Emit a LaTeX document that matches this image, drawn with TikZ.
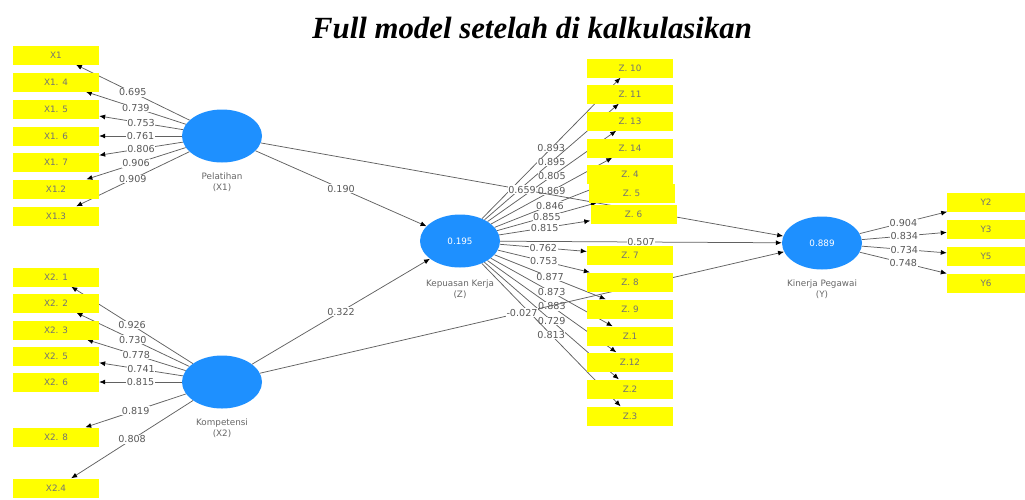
\documentclass[tikz,border=0pt]{standalone}
\usepackage{fontspec}
\setmainfont{Liberation Serif}
\newfontfamily\plsfont{DejaVu Sans}
\usetikzlibrary{shapes.geometric,arrows.meta,backgrounds}
\definecolor{plsyellow}{RGB}{255,255,0}
\definecolor{plsblue}{RGB}{30,144,255}

\begin{document}
\begin{tikzpicture}[x=1pt, y=-1pt]

		\tikzstyle{indbox} = [rectangle, fill=plsyellow, minimum width=86pt, minimum height=19pt, inner sep=0pt, text=black!55, font=\plsfont\fontsize{8.8}{9}\selectfont]
		\tikzstyle{latent} = [ellipse, fill=plsblue, minimum width=80pt, minimum height=53pt, inner sep=0pt, text=white, font=\plsfont\fontsize{8.8}{9}\selectfont]
		\tikzstyle{lvname} = [align=center, text=black!60, font=\plsfont\fontsize{8.8}{11}\selectfont]
		\tikzstyle{link} = [draw=black!62, line width=0.75pt, -{Latex[length=6pt, width=5pt, color=black]}]
		\tikzstyle{val} = [fill=white, inner sep=0.5pt, text=black!65, font=\plsfont\fontsize{9.6}{10}\selectfont]

		\useasboundingbox (0,0) rectangle (1025,499);

		\node[anchor=base, font=\bfseries\itshape\fontsize{30.8}{34}\selectfont] (title) at (532,38) {Full model setelah di kalkulasikan};

		\node[latent] (pel) at (222,136) {};
		\node[latent] (komp) at (222,382) {};
		\node[latent] (kep) at (460,241) {0.195};
		\node[latent] (kin) at (822,243) {0.889};

		\node[lvname] (pel_lbl) at (222,182) {Pelatihan\\(X1)};
		\node[lvname] (komp_lbl) at (222,428) {Kompetensi\\(X2)};
		\node[lvname] (kep_lbl) at (460,289) {Kepuasan Kerja\\(Z)};
		\node[lvname] (kin_lbl) at (822,289) {Kinerja Pegawai\\(Y)};

		\node[indbox] (x1) at (56,55) {X1};
		\node[indbox] (x14) at (56,82) {X1. 4};
		\node[indbox] (x15) at (56,109) {X1. 5};
		\node[indbox] (x16) at (56,136) {X1. 6};
		\node[indbox] (x17) at (56,162) {X1. 7};
		\node[indbox] (x12) at (56,189) {X1.2};
		\node[indbox] (x13) at (56,216) {X1.3};

		\node[indbox] (x21) at (56,277) {X2. 1};
		\node[indbox] (x22) at (56,303) {X2. 2};
		\node[indbox] (x23) at (56,330) {X2. 3};
		\node[indbox] (x25) at (56,356) {X2. 5};
		\node[indbox] (x26) at (56,382) {X2. 6};
		\node[indbox] (x28) at (56,437) {X2. 8};
		\node[indbox] (x24) at (56,488) {X2.4};

		\node[indbox] (z10) at (630,68) {Z. 10};
		\node[indbox] (z11) at (630,94) {Z. 11};
		\node[indbox] (z13) at (630,121) {Z. 13};
		\node[indbox] (z14) at (630,148) {Z. 14};
		\node[indbox] (z4) at (630,174) {Z. 4};
		\node[indbox] (z5) at (631.5,193) {Z. 5};
		\node[indbox] (z6) at (633.5,214) {Z. 6};
		\node[indbox] (z7) at (630,255) {Z. 7};
		\node[indbox] (z8) at (630,282) {Z. 8};
		\node[indbox] (z9) at (630,309) {Z. 9};
		\node[indbox] (z1) at (630,336) {Z.1};
		\node[indbox] (z12) at (630,362) {Z.12};
		\node[indbox] (z2) at (630,389) {Z.2};
		\node[indbox] (z3) at (630,416) {Z.3};

		\node[indbox, minimum width=78pt] (y2) at (986,202) {Y2};
		\node[indbox, minimum width=78pt] (y3) at (986,229) {Y3};
		\node[indbox, minimum width=78pt] (y5) at (986,256) {Y5};
		\node[indbox, minimum width=78pt] (y6) at (986,283) {Y6};

		\begin{scope}[on background layer]
		\draw[link] (pel) -- node[val] {0.695} (x1);
		\draw[link] (pel) -- node[val] {0.739} (x14);
		\draw[link] (pel) -- node[val] {0.753} (x15);
		\draw[link] (pel) -- node[val] {0.761} (x16);
		\draw[link] (pel) -- node[val] {0.806} (x17);
		\draw[link] (pel) -- node[val] {0.906} (x12);
		\draw[link] (pel) -- node[val] {0.909} (x13);

		\draw[link] (komp) -- node[val] {0.926} (x21);
		\draw[link] (komp) -- node[val] {0.730} (x22);
		\draw[link] (komp) -- node[val] {0.778} (x23);
		\draw[link] (komp) -- node[val] {0.741} (x25);
		\draw[link] (komp) -- node[val] {0.815} (x26);
		\draw[link] (komp) -- node[val] {0.819} (x28);
		\draw[link] (komp) -- node[val] {0.808} (x24);

		\draw[link] (kep) -- node[val] {0.893} (z10);
		\draw[link] (kep) -- node[val] {0.895} (z11);
		\draw[link] (kep) -- node[val] {0.805} (z13);
		\draw[link] (kep) -- node[val] {0.869} (z14);
		\draw[link] (kep) -- node[val] {0.846} (z4);
		\draw[link] (kep) -- node[val] {0.855} (z5);
		\draw[link] (kep) -- node[val] {0.815} (z6);
		\draw[link] (kep) -- node[val] {0.762} (z7);
		\draw[link] (kep) -- node[val] {0.753} (z8);
		\draw[link] (kep) -- node[val] {0.877} (z9);
		\draw[link] (kep) -- node[val] {0.873} (z1);
		\draw[link] (kep) -- node[val] {0.883} (z12);
		\draw[link] (kep) -- node[val] {0.729} (z2);
		\draw[link] (kep) -- node[val] {0.813} (z3);

		\draw[link] (kin) -- node[val] {0.904} (y2);
		\draw[link] (kin) -- node[val] {0.834} (y3);
		\draw[link] (kin) -- node[val] {0.734} (y5);
		\draw[link] (kin) -- node[val] {0.748} (y6);

		\draw[link] (pel) -- node[val] {0.190} (kep);
		\draw[link] (komp) -- node[val] {0.322} (kep);
		\draw[link] (pel) -- node[val] {0.659} (kin);
		\draw[link] (komp) -- node[val] {-0.027} (kin);
		\draw[link] (kep) -- node[val] {0.507} (kin);
		\end{scope}

	\end{tikzpicture}
\end{document}
